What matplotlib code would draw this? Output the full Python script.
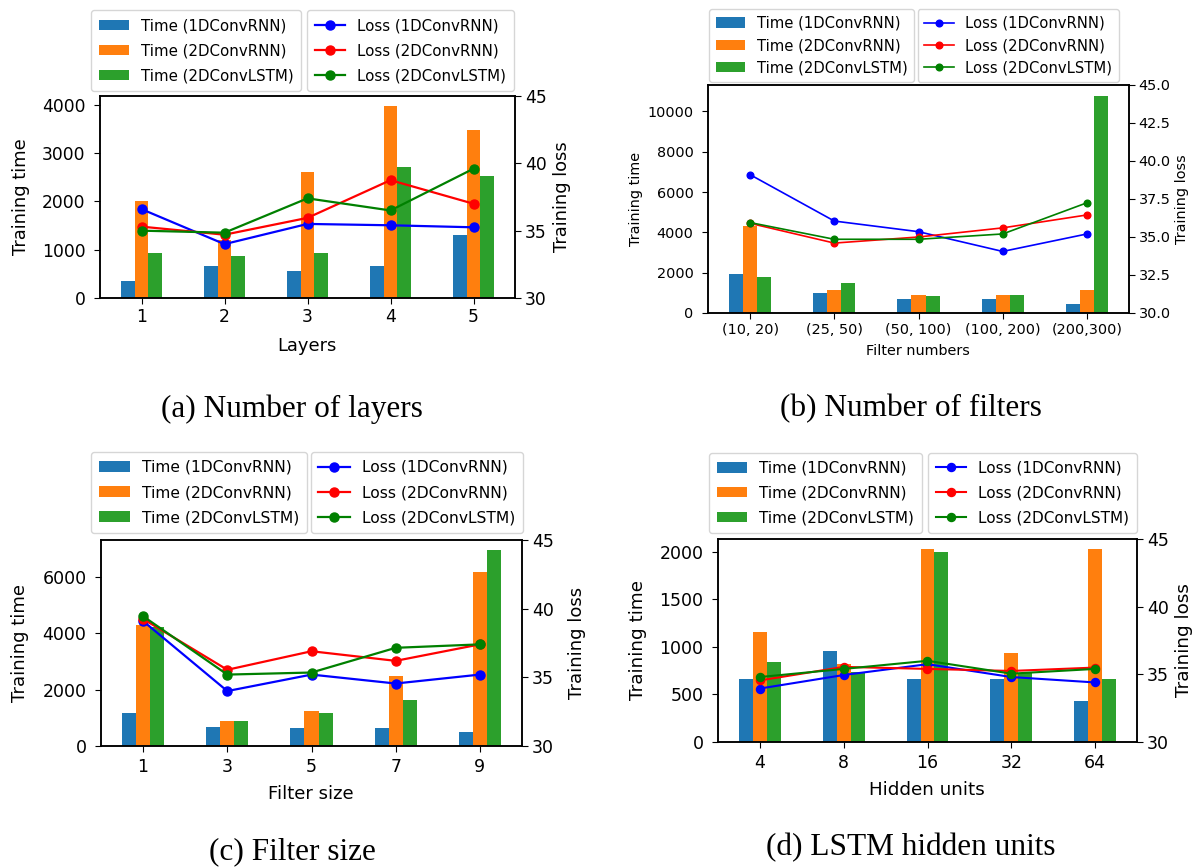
import matplotlib
matplotlib.use("Agg")
import matplotlib.pyplot as plt
from matplotlib.ticker import MultipleLocator, FormatStrFormatter
import numpy as np

W, H = 1195, 868

models = ["1DConvRNN", "2DConvRNN", "2DConvLSTM"]
bar_colors = ["#1f77b4", "#ff7f0e", "#2ca02c"]
line_colors = ["blue", "red", "green"]

# (a) number of layers
layers = ["1", "2", "3", "4", "5"]
layers_time_1d = [360, 665, 550, 665, 1310]
layers_time_2d = [2000, 1200, 2610, 3980, 3480]
layers_time_lstm = [930, 860, 930, 2720, 2530]
layers_loss_1d = [36.6, 34.0, 35.5, 35.4, 35.25]
layers_loss_2d = [35.3, 34.7, 35.95, 38.75, 37.0]
layers_loss_lstm = [35.0, 34.85, 37.4, 36.5, 39.6]

# (b) number of filters
filters = ["(10, 20)", "(25, 50)", "(50, 100)", "(100, 200)", "(200,300)"]
filters_time_1d = [1950, 970, 680, 680, 460]
filters_time_2d = [4320, 1120, 900, 900, 1120]
filters_time_lstm = [1800, 1510, 840, 900, 10770]
filters_loss_1d = [39.1, 36.05, 35.35, 34.05, 35.2]
filters_loss_2d = [35.9, 34.6, 35.0, 35.6, 36.45]
filters_loss_lstm = [35.95, 34.85, 34.85, 35.2, 37.25]

# (c) filter size
sizes = ["1", "3", "5", "7", "9"]
size_time_1d = [1160, 690, 620, 620, 500]
size_time_2d = [4300, 890, 1230, 2490, 6160]
size_time_lstm = [4200, 890, 1160, 1630, 6950]
size_loss_1d = [39.1, 34.0, 35.2, 34.55, 35.2]
size_loss_2d = [39.25, 35.55, 36.9, 36.2, 37.4]
size_loss_lstm = [39.45, 35.2, 35.35, 37.15, 37.4]

# (d) LSTM hidden units
hidden = ["4", "8", "16", "32", "64"]
hidden_time_1d = [665, 955, 665, 665, 430]
hidden_time_2d = [1150, 820, 2030, 935, 2030]
hidden_time_lstm = [840, 740, 1990, 720, 665]
hidden_loss_1d = [33.95, 34.95, 35.75, 34.8, 34.4]
hidden_loss_2d = [34.55, 35.55, 35.4, 35.25, 35.5]
hidden_loss_lstm = [34.8, 35.4, 36.0, 35.05, 35.4]

fig = plt.figure(figsize=(W / 100, H / 100), dpi=100)


def fx(px):
    return px / W


def fy(py):
    return 1 - py / H


def panel(rect, cats, times, losses, xlabel, caption, cap_xy, tick_fs,
          label_fs, leg_fs, leg_space, leg_pad, leg_bottom, leg1_left,
          leg2_right, lw, ms, time_step, loss_step, loss_fmt, xpad,
          ylab_x, ylab2_x, xlab_y):
    l, t, r, b = rect
    ax = fig.add_axes([fx(l), fy(b), (r - l) / W, (b - t) / H])
    x = np.arange(len(cats))
    w = 0.5 / 3
    for i, (vals, c, m) in enumerate(zip(times, bar_colors, models)):
        ax.bar(x + (i - 1) * w, vals, w, color=c, label=f"Time ({m})")
    ax.set_xlim(-0.5, len(cats) - 0.5)
    ax.set_xticks(x, cats)
    ax.yaxis.set_major_locator(MultipleLocator(time_step))
    ax.set_xlabel(xlabel, fontsize=label_fs)
    ax.set_ylabel("Training time", fontsize=label_fs)
    ax.tick_params(axis="x", labelsize=tick_fs, length=4, pad=xpad)
    ax.tick_params(axis="y", labelsize=tick_fs, length=4, pad=6.5)
    ax.xaxis.set_label_coords(fx(xlab_y[0]), fy(xlab_y[1]),
                              transform=fig.transFigure)
    ax.yaxis.set_label_coords(fx(ylab_x), fy((t + b) / 2),
                              transform=fig.transFigure)

    ax2 = ax.twinx()
    for vals, c, m in zip(losses, line_colors, models):
        ax2.plot(x, vals, color=c, marker="o", lw=lw, ms=ms,
                 label=f"Loss ({m})")
    ax2.set_ylim(30, 45)
    ax2.yaxis.set_major_locator(MultipleLocator(loss_step))
    ax2.yaxis.set_major_formatter(FormatStrFormatter(loss_fmt))
    ax2.set_ylabel("Training loss", fontsize=label_fs)
    ax2.tick_params(labelsize=tick_fs, length=4, pad=3)
    ax2.yaxis.set_label_coords(fx(ylab2_x), fy((t + b) / 2),
                               transform=fig.transFigure)

    for a in (ax, ax2):
        for s in a.spines.values():
            s.set_linewidth(1.1)

    common = dict(fontsize=leg_fs, borderaxespad=0, labelspacing=leg_space,
                  borderpad=leg_pad, bbox_transform=fig.transFigure)
    ax.legend(loc="lower left", bbox_to_anchor=(fx(leg1_left), fy(leg_bottom)),
              **common)
    ax2.legend(loc="lower right",
               bbox_to_anchor=(fx(leg2_right), fy(leg_bottom)), **common)

    fig.text(fx(cap_xy[0]), fy(cap_xy[1]), caption, ha="center", va="center",
             fontsize=22.5, family="Liberation Serif")


panel((100, 96, 515, 298), layers,
      [layers_time_1d, layers_time_2d, layers_time_lstm],
      [layers_loss_1d, layers_loss_2d, layers_loss_lstm],
      "Layers", "(a) Number of layers", (292, 409), 12.3, 12.9, 10.8,
      0.67, 0.52, 91, 91, 514, 1.6, 6.5, 1000, 5, "%d", 3.0,
      30, 553, (307, 337))

panel((708, 85, 1129, 313), filters,
      [filters_time_1d, filters_time_2d, filters_time_lstm],
      [filters_loss_1d, filters_loss_2d, filters_loss_lstm],
      "Filter numbers", "(b) Number of filters", (911, 409), 10.4, 10.4,
      10.6, 0.5, 0.45, 82, 709, 1119, 1.2, 4.8, 2000, 2.5, "%.1f", 3.4,
      643, 1175, (918, 344))

panel((101, 540, 522, 746), sizes,
      [size_time_1d, size_time_2d, size_time_lstm],
      [size_loss_1d, size_loss_2d, size_loss_lstm],
      "Filter size", "(c) Filter size", (292, 852), 12.5, 13, 11.2,
      0.65, 0.5, 533, 91, 523, 1.6, 6.5, 2000, 5, "%d", 4.5,
      29, 568, (311, 785))

panel((718, 539, 1137, 742), hidden,
      [hidden_time_1d, hidden_time_2d, hidden_time_lstm],
      [hidden_loss_1d, hidden_loss_2d, hidden_loss_lstm],
      "Hidden units", "(d) LSTM hidden units", (911, 848), 12.5, 13.2, 11,
      0.65, 0.5, 533, 709, 1137, 1.5, 5.8, 500, 5, "%d", 5.0,
      647, 1175, (927, 781))

fig.savefig("out.png", dpi=100)
